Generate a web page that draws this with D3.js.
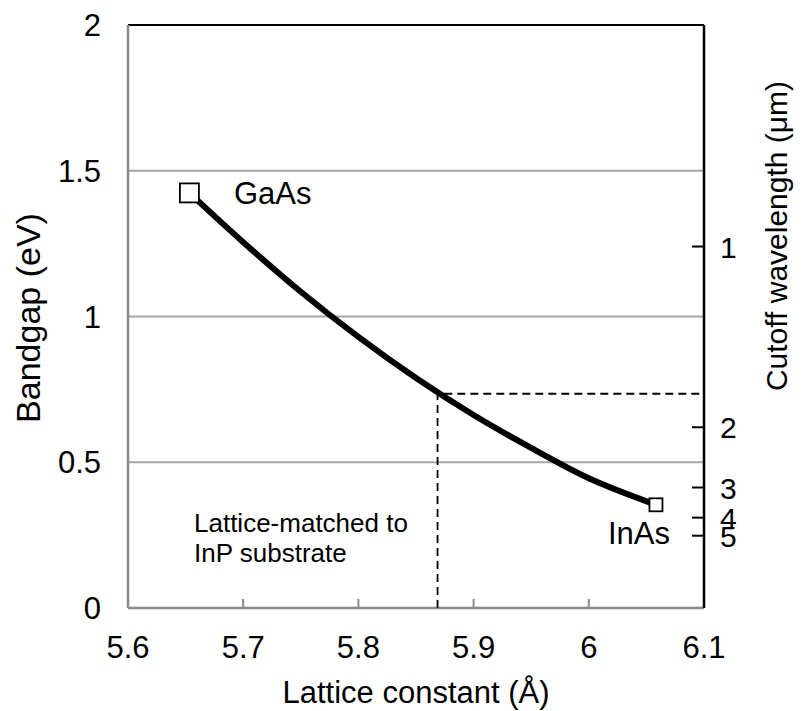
<!DOCTYPE html>
<html>
<head>
<meta charset="utf-8">
<script src="https://cdn.jsdelivr.net/npm/d3@7"></script>
<style>
  html, body { margin: 0; padding: 0; background: #fff; }
  text { font-family: "Liberation Sans", Arial, sans-serif; fill: #000; }
</style>
</head>
<body>
<svg id="chart" width="810" height="711"></svg>
<script>
// ---- data ----
const latticeConst = [5.6533, 5.70, 5.75, 5.80, 5.85, 5.90, 5.95, 6.00, 6.0583];
const bandgapEV    = [1.424, 1.255, 1.085, 0.930, 0.789, 0.662, 0.549, 0.445, 0.354];
const endpoints = [
  {name: "GaAs", a: 5.6533, e: 1.424, size: 19},
  {name: "InAs", a: 6.0583, e: 0.354, size: 13}
];
const inpLattice = 5.8687;
const inpBandgap = 0.735;
const xTicks = [5.6, 5.7, 5.8, 5.9, 6.0, 6.1];
const xTickLabels = ["5.6", "5.7", "5.8", "5.9", "6", "6.1"];
const yTicks = [0, 0.5, 1, 1.5, 2];
const yTickLabels = ["0", "0.5", "1", "1.5", "2"];
const gridValues = [0.5, 1, 1.5];
const cutoffTicks = [1, 2, 3, 4, 5];   // µm, E = 1.24/λ
const hcOverE = 1.24;

// ---- layout ----
const svg = d3.select("#chart");
const L = 128, T = 25, R = 704, B = 608;
const x = d3.scaleLinear().domain([5.6, 6.1]).range([L, R]);
const y = d3.scaleLinear().domain([0, 2]).range([B, T]);

// gridlines
svg.append("g").selectAll("line").data(gridValues).join("line")
  .attr("x1", L).attr("x2", R)
  .attr("y1", d => y(d)).attr("y2", d => y(d))
  .attr("stroke", "#a6a6a6").attr("stroke-width", 2);

// top border
svg.append("line").attr("x1", L).attr("x2", R).attr("y1", T).attr("y2", T)
  .attr("stroke", "#000").attr("stroke-width", 2);

// left axis (gray line, labels)
svg.append("line").attr("x1", L).attr("x2", L).attr("y1", T).attr("y2", B)
  .attr("stroke", "#898989").attr("stroke-width", 2.5);
svg.append("g").selectAll("text").data(yTicks).join("text")
  .attr("x", 101).attr("y", d => y(d) + 11)
  .attr("text-anchor", "end").attr("font-size", 31)
  .text((d, i) => yTickLabels[i]);

// bottom axis
svg.append("line").attr("x1", L).attr("x2", R).attr("y1", B).attr("y2", B)
  .attr("stroke", "#898989").attr("stroke-width", 2.5);
svg.append("g").selectAll("line").data(xTicks.slice(1, -1)).join("line")
  .attr("x1", d => x(d)).attr("x2", d => x(d))
  .attr("y1", B).attr("y2", B - 9)
  .attr("stroke", "#898989").attr("stroke-width", 2);
svg.append("g").selectAll("text").data(xTicks).join("text")
  .attr("x", d => x(d)).attr("y", 658)
  .attr("text-anchor", "middle").attr("font-size", 31)
  .text((d, i) => xTickLabels[i]);

// right axis (black, cutoff wavelength)
svg.append("line").attr("x1", R).attr("x2", R).attr("y1", T).attr("y2", B)
  .attr("stroke", "#000").attr("stroke-width", 2.5);
svg.append("g").selectAll("line").data(cutoffTicks).join("line")
  .attr("x1", R - 12).attr("x2", R)
  .attr("y1", d => y(hcOverE / d)).attr("y2", d => y(hcOverE / d))
  .attr("stroke", "#000").attr("stroke-width", 2);
svg.append("g").selectAll("text").data(cutoffTicks).join("text")
  .attr("x", 720).attr("y", d => y(hcOverE / d) + 11)
  .attr("text-anchor", "start").attr("font-size", 30)
  .text(d => d);

// axis titles
svg.append("text").attr("x", 416).attr("y", 703)
  .attr("text-anchor", "middle").attr("font-size", 31)
  .text("Lattice constant (Å)");
svg.append("text")
  .attr("transform", "translate(40,318) rotate(-90)")
  .attr("text-anchor", "middle").attr("font-size", 34)
  .text("Bandgap (eV)");
svg.append("text")
  .attr("transform", "translate(787,236) rotate(-90)")
  .attr("text-anchor", "middle").attr("font-size", 30)
  .text("Cutoff wavelength (μm)");

// dashed InP lattice-match lines
svg.append("path")
  .attr("d", `M${x(inpLattice)},${B} V${y(inpBandgap)} H${R}`)
  .attr("fill", "none").attr("stroke", "#000").attr("stroke-width", 1.8)
  .attr("stroke-dasharray", "8,5");

// curve
const pts = latticeConst.map((a, i) => [a, bandgapEV[i]]);
svg.append("path").datum(pts)
  .attr("d", d3.line().x(d => x(d[0])).y(d => y(d[1])).curve(d3.curveCatmullRom))
  .attr("fill", "none").attr("stroke", "#000").attr("stroke-width", 6);

// endpoint markers
svg.append("g").selectAll("rect").data(endpoints).join("rect")
  .attr("x", d => x(d.a) - d.size / 2).attr("y", d => y(d.e) - d.size / 2)
  .attr("width", d => d.size).attr("height", d => d.size)
  .attr("fill", "#fff").attr("stroke", "#000").attr("stroke-width", 1.8);

// labels
svg.append("text").attr("x", 234).attr("y", 204).attr("font-size", 31).text("GaAs");
svg.append("text").attr("x", 608).attr("y", 544).attr("font-size", 31).text("InAs");
svg.append("text").attr("x", 194).attr("y", 532).attr("font-size", 26).text("Lattice-matched to");
svg.append("text").attr("x", 194).attr("y", 562).attr("font-size", 26).text("InP substrate");
</script>
</body>
</html>
